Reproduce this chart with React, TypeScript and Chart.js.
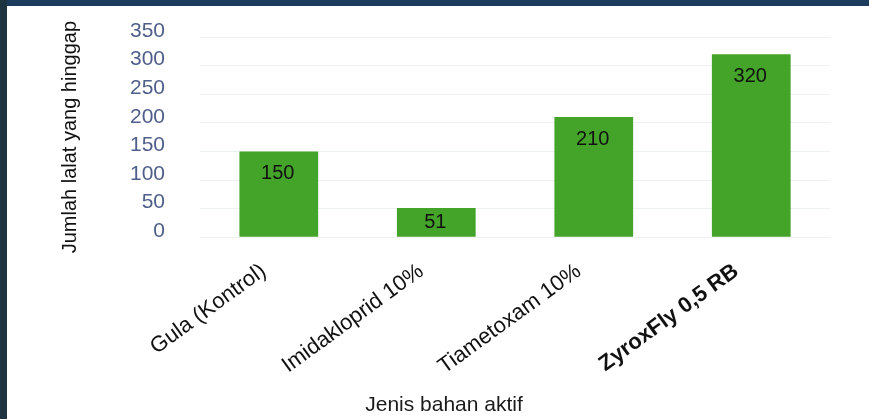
import React, { useEffect, useRef } from "react";
import { Chart, registerables } from "chart.js";

Chart.register(...registerables);

const categories = ["Gula (Kontrol)", "Imidakloprid 10%", "Tiametoxam 10%", "ZyroxFly 0,5 RB"];
const flyCounts = [150, 51, 210, 320];
const highlightedCategory = "ZyroxFly 0,5 RB";
const yTickValues = [0, 50, 100, 150, 200, 250, 300, 350];
const yAxisTitle = "Jumlah lalat yang hinggap";
const xAxisTitle = "Jenis bahan aktif";

const FONT = "'Liberation Sans', Arial, Helvetica, sans-serif";

const valueLabelPlugin = {
  id: "valueLabels",
  afterDatasetsDraw(chart: any) {
    const { ctx } = chart;
    const meta = chart.getDatasetMeta(0);
    const data = chart.data.datasets[0].data as number[];
    ctx.save();
    ctx.font = `20px ${FONT}`;
    ctx.fillStyle = "#111111";
    ctx.textAlign = "center";
    ctx.textBaseline = "middle";
    meta.data.forEach((bar: any, i: number) => {
      const h = bar.base - bar.y;
      const y = bar.y + Math.min(22, h / 2);
      ctx.fillText(String(data[i]), bar.x - 1, y);
    });
    ctx.restore();
  },
};

export default function App() {
  const canvasRef = useRef<HTMLCanvasElement | null>(null);

  useEffect(() => {
    document.body.style.margin = "0";
    const canvas = canvasRef.current;
    if (!canvas) return;
    const highlightIndex = categories.indexOf(highlightedCategory);
    const chart = new Chart(canvas, {
      type: "bar",
      data: {
        labels: categories,
        datasets: [
          {
            data: flyCounts,
            backgroundColor: "#44a329",
            borderWidth: 0,
            barPercentage: 0.5,
            categoryPercentage: 1,
          },
        ],
      },
      plugins: [valueLabelPlugin],
      options: {
        responsive: false,
        animation: false,
        devicePixelRatio: 1,
        layout: { padding: { left: 58, right: 39, top: 37, bottom: 1 } },
        plugins: {
          legend: { display: false },
          tooltip: { enabled: false },
          title: {
            display: true,
            position: "bottom",
            text: xAxisTitle,
            color: "#1a1a1a",
            font: { family: FONT, size: 21, weight: "normal" },
            padding: { top: 0, bottom: 0 },
          },
        },
        scales: {
          x: {
            grid: { display: false },
            border: { display: false },
            ticks: {
              autoSkip: false,
              minRotation: 36,
              maxRotation: 36,
              padding: 13,
              labelOffset: -15,
              color: "#111111",
              font: (ctx: any) => ({
                family: FONT,
                size: 22,
                weight: ctx.index === highlightIndex ? "bold" : "normal",
              }),
            },
          },
          y: {
            min: 0,
            max: 350,
            afterBuildTicks: (axis: any) => {
              axis.ticks = yTickValues.map((v) => ({ value: v }));
            },
            grid: {
              color: "#eef1f1",
              drawTicks: true,
              tickLength: 30,
              tickColor: "rgba(0,0,0,0)",
              lineWidth: 1,
            },
            border: { display: false },
            ticks: {
              autoSkip: false,
              padding: 5,
              labelOffset: -6,
              color: "#4f5f8a",
              font: { family: FONT, size: 21 },
            },
            title: {
              display: true,
              text: yAxisTitle,
              color: "#111111",
              font: { family: FONT, size: 20 },
              padding: { top: 0, bottom: 43 },
            },
          },
        },
      },
    });
    return () => chart.destroy();
  }, []);

  return (
    <div style={{ position: "relative", width: 869, height: 419, background: "#ffffff", overflow: "hidden" }}>
      <canvas ref={canvasRef} width={869} height={419} style={{ position: "absolute", left: 0, top: 0 }} />
      <div style={{ position: "absolute", left: 0, top: 0, width: 869, height: 6, background: "#1c3b5d" }} />
      <div style={{ position: "absolute", left: 0, top: 0, width: 7, height: 419, background: "#1e3441" }} />
    </div>
  );
}
